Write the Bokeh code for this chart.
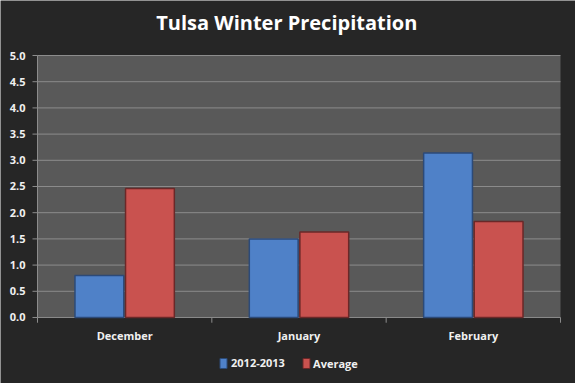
from bokeh.plotting import figure
from bokeh.models import ColumnDataSource, Range1d, BoxAnnotation
from bokeh.core.properties import value
from bokeh.embed import file_html
from bokeh.resources import INLINE

title = "Tulsa Winter Precipitation"
months = ["December", "January", "February"]
season_2012_2013 = [0.80, 1.50, 3.14]
average = [2.46, 1.63, 1.83]
y_ticks = [0.0, 0.5, 1.0, 1.5, 2.0, 2.5, 3.0, 3.5, 4.0, 4.5, 5.0]
series_names = ["2012-2013", "Average"]

BLUE, BLUE_EDGE = "#4f81c8", "#2c4a78"
RED, RED_EDGE = "#c9524f", "#6a2828"
BG, PLOT_BG, GRID, TXT = "#262626", "#595959", "#8c8c8c", "#f0f0f0"

n = len(months)
idx = list(range(n))
ymin, ymax = y_ticks[0], y_ticks[-1]
src_a = ColumnDataSource(dict(x=[i + 0.5 - 0.145 for i in idx], top=season_2012_2013))
src_b = ColumnDataSource(dict(x=[i + 0.5 + 0.145 for i in idx], top=average))

# frame spans the whole figure: 174.33 px per category, 52.4 px per unit
PX = 1 / 174.33
p = figure(width=575, height=383, output_backend="svg", toolbar_location=None,
           x_range=Range1d(-37 * PX, n + 15 * PX), y_range=Range1d(-1.26, 6.05))
p.min_border = 0
p.background_fill_color = BG
p.border_fill_color = BG
p.outline_line_color = None
p.axis.visible = False
p.grid.visible = False

# plot area
p.add_layout(BoxAnnotation(left=0, right=n, bottom=ymin, top=ymax, fill_color=PLOT_BG,
                           fill_alpha=1, line_color=None, level="image"))

# gridlines
p.segment(x0=[0] * len(y_ticks), y0=y_ticks, x1=[n] * len(y_ticks), y1=y_ticks,
          line_color=GRID, line_width=1, level="underlay")

# bars
p.vbar(x="x", top="top", width=0.28, bottom=0, source=src_a,
       fill_color=BLUE, line_color=BLUE_EDGE, line_width=1.5)
p.vbar(x="x", top="top", width=0.28, bottom=0, source=src_b,
       fill_color=RED, line_color=RED_EDGE, line_width=1.5)

# y axis: line, ticks, labels
p.segment(x0=[0], y0=[ymin], x1=[0], y1=[ymax], line_color=GRID, line_width=1)
p.segment(x0=[0] * len(y_ticks), y0=y_ticks, x1=[-5 * PX] * len(y_ticks), y1=y_ticks,
          line_color=GRID, line_width=1)
p.text(x=[-12 * PX] * len(y_ticks), y=y_ticks, text=["%.1f" % t for t in y_ticks],
       text_align="right", text_baseline="middle", text_color=TXT,
       text_font=value("Open Sans"), text_font_style="bold", text_font_size="11px")

# x axis: category boundary ticks and labels
bounds = list(range(n + 1))
p.segment(x0=bounds, y0=[0] * len(bounds), x1=bounds, y1=[-0.1] * len(bounds),
          line_color=GRID, line_width=1)
p.text(x=[i + 0.5 for i in idx], y=[-0.34] * n, text=months,
       text_align="center", text_baseline="middle", text_color=TXT,
       text_font=value("Open Sans"), text_font_style="bold", text_font_size="11px")

# title
p.text(x=[1.43], y=[5.63], text=[title], text_align="center", text_baseline="middle",
       text_color="#ffffff", text_font=value("Open Sans"), text_font_style="bold",
       text_font_size="20px")

# legend (keys and labels)
p.rect(x=[1.067, 1.543], y=[-0.878, -0.878], width=7, height=10,
       width_units="screen", height_units="screen",
       fill_color=[BLUE, RED], line_color=[BLUE_EDGE, RED_EDGE], line_width=1)
p.text(x=[1.110, 1.581], y=[-0.878, -0.878], text=series_names,
       text_align="left", text_baseline="middle", text_color=TXT,
       text_font=value("Open Sans"), text_font_style="bold", text_font_size="11px")

open("out.html", "w").write(file_html(p, INLINE))
